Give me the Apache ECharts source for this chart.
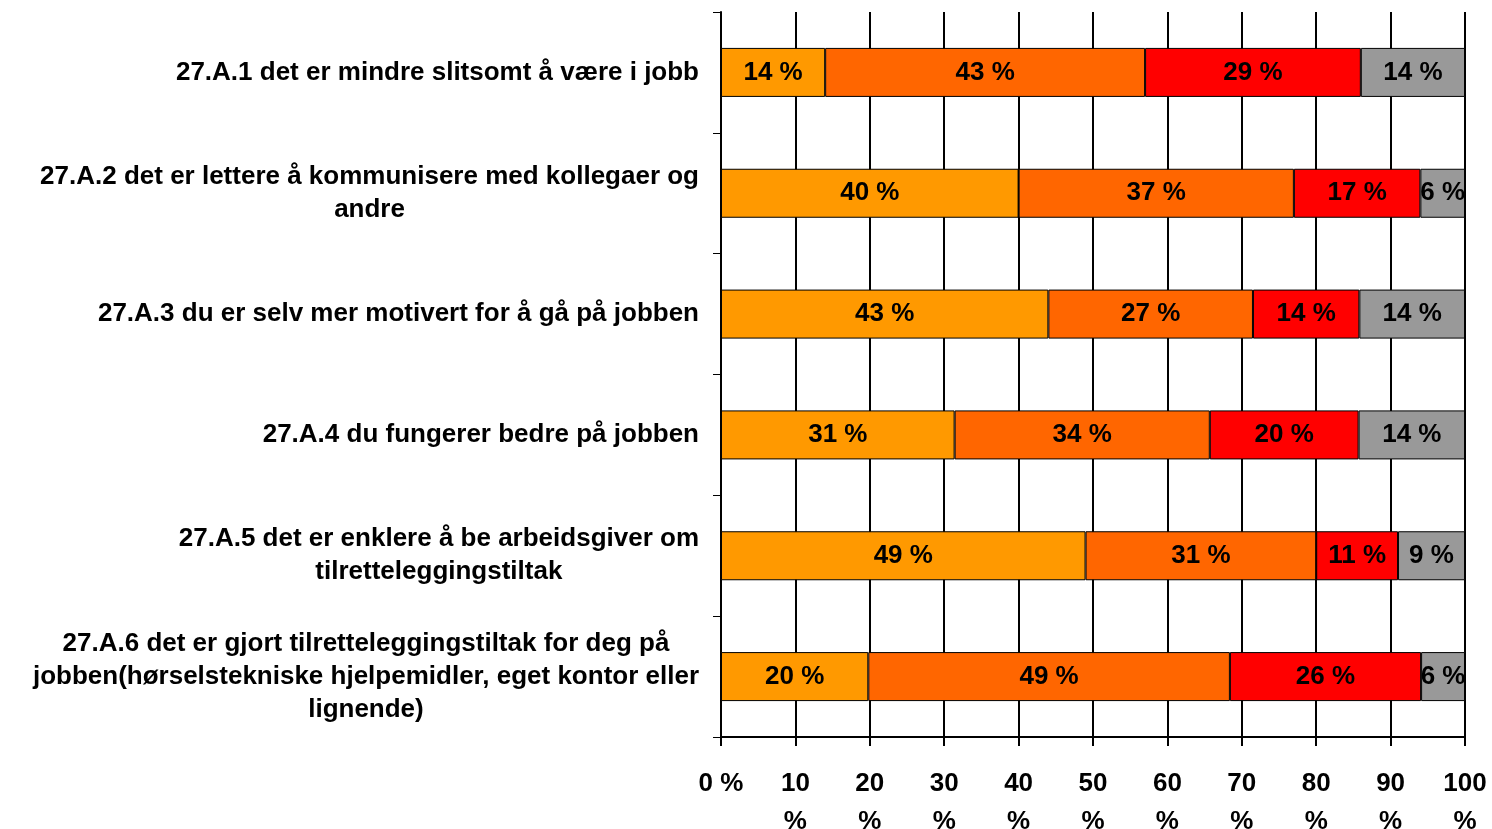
<!DOCTYPE html>
<html>
<head>
<meta charset="utf-8">
<script src="https://cdn.jsdelivr.net/npm/echarts@6/dist/echarts.min.js"></script>
<style>
    html, body { margin: 0; padding: 0; background: #fff; }
    #main { width: 1492px; height: 829px; }
</style>
</head>
<body>
<div id="main"></div>
<script>
// kategorier (påstander)
var categories = [
    '27.A.1 det er mindre slitsomt å være i jobb',
    '27.A.2 det er lettere å kommunisere med kollegaer og\nandre',
    '27.A.3 du er selv mer motivert for å gå på jobben',
    '27.A.4 du fungerer bedre på jobben',
    '27.A.5 det er enklere å be arbeidsgiver om\ntilretteleggingstiltak',
    '27.A.6 det er gjort tilretteleggingstiltak for deg på\njobben(hørselstekniske hjelpemidler, eget kontor eller\nlignende)'
]

var seriesNames = ['Helt enig', 'Delvis enig', 'Delvis uenig', 'Helt uenig']
var seriesColors = ['#FF9900', '#FF6600', '#FF0000', '#999999']

// lengder lest av fra søylene
var values1 = [14, 40, 44, 31.4, 49, 19.8]
var values2 = [43, 37, 27.5, 34.3, 31, 48.6]
var values3 = [29, 17, 14.3, 20, 11, 25.7]
var values4 = [14, 6, 14.2, 14.3, 9, 5.9]

// tekst på søylene
var labels1 = [14, 40, 43, 31, 49, 20]
var labels2 = [43, 37, 27, 34, 31, 49]
var labels3 = [29, 17, 14, 20, 11, 26]
var labels4 = [14, 6, 14, 14, 9, 6]

var fontFam = '"Liberation Sans", Arial, sans-serif'
var narrowFam = '"Liberation Sans Narrow", "Arial Narrow", "Liberation Sans", sans-serif'

var allValues = [values1, values2, values3, values4]
var allLabels = [labels1, labels2, labels3, labels4]

var series = []
for (var i = 0; i < 4; i++) {
    (function (idx) {
        series.push({
            name: seriesNames[idx],
            type: 'bar',
            stack: 'total',
            barWidth: 49,
            data: allValues[idx],
            itemStyle: {
                color: seriesColors[idx],
                borderColor: '#000',
                borderWidth: 1
            },
            label: {
                show: true,
                position: 'inside',
                color: '#000',
                fontFamily: fontFam,
                fontWeight: 'bold',
                fontSize: 26,
                formatter: function (p) {
                    return allLabels[idx][p.dataIndex] + ' %'
                }
            },
            silent: true
        })
    })(i)
}

var chart = echarts.init(document.getElementById('main'))

var option = {
    animation: false,
    backgroundColor: '#fff',
    grid: {
        left: 721,
        right: 27,
        top: 12,
        bottom: 92,
        outerBoundsMode: 'none',
        containLabel: false
    },
    xAxis: {
        type: 'value',
        min: 0,
        max: 100,
        interval: 10,
        axisLine: { show: true, lineStyle: { color: '#000', width: 2 } },
        axisTick: { show: true, length: 9, lineStyle: { color: '#000', width: 2 } },
        splitLine: { show: true, lineStyle: { color: '#000', width: 2 } },
        axisLabel: {
            color: '#000',
            fontFamily: narrowFam,
            fontWeight: 'bold',
            fontSize: 26,
            lineHeight: 38,
            margin: 28,
            formatter: function (v) {
                return v === 0 ? '0 %' : v + '\n%'
            }
        }
    },
    yAxis: {
        type: 'category',
        inverse: true,
        data: categories,
        axisLine: { show: true, lineStyle: { color: '#000', width: 2 } },
        axisTick: { show: true, length: 8, lineStyle: { color: '#000', width: 1 } },
        axisLabel: {
            margin: 22,
            align: 'right',
            formatter: function (v) {
                return v.split('\n').map(function (s) { return '{c|' + s + '}' }).join('\n')
            },
            rich: {
                c: {
                    align: 'center',
                    color: '#000',
                    fontFamily: fontFam,
                    fontWeight: 'bold',
                    fontSize: 26,
                    lineHeight: 33
                }
            }
        }
    },
    series: series
}

option && chart.setOption(option)
</script>
</body>
</html>
